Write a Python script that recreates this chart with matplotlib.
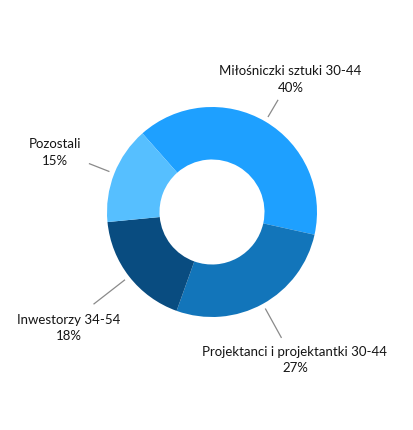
import numpy as np
import matplotlib
matplotlib.use("Agg")
import matplotlib.pyplot as plt

categories = ["Miłośniczki sztuki 30-44", "Projektanci i projektantki 30-44",
              "Inwestorzy 34-54", "Pozostali"]
values = [40, 27, 18, 15]
colors = ["#1ea0ff", "#1275ba", "#094c80", "#56bfff"]

# label layout (data units, radius 1 = outer ring)
label_pos = [(0.748, 1.262), (0.79, -1.41), (-1.367, -1.105), (-1.50, 0.565)]
line_end_r = [1.24, 1.37, 1.43, 1.26]

plt.rcParams['font.family'] = ['Lato', 'DejaVu Sans']

W, H = 414, 430
fig = plt.figure(figsize=(W / 100, H / 100), dpi=100)
ax = fig.add_axes([0, 0, 1, 1])
cx, cy, R = 212, 212, 105

wedges, _ = ax.pie(values, colors=colors, startangle=131.5, counterclock=False,
                   radius=1.0, wedgeprops=dict(width=0.5, edgecolor='none'))

for w, cat, v, (tx, ty), r_end in zip(wedges, categories, values, label_pos, line_end_r):
    mid = np.deg2rad((w.theta1 + w.theta2) / 2)
    x0, y0 = 1.05 * np.cos(mid), 1.05 * np.sin(mid)
    x1, y1 = r_end * np.cos(mid), r_end * np.sin(mid)
    ax.plot([x0, x1], [y0, y1], color="#8a8a8a", lw=0.9, solid_capstyle='butt')
    ax.text(tx, ty, f"{cat}\n{v}%", ha='center', va='center', multialignment='center',
            fontsize=9.5, color="#151515", linespacing=1.45)

ax.set_xlim(-cx / R, (W - cx) / R)
ax.set_ylim(-(H - cy) / R, cy / R)
ax.set_aspect('auto')
ax.axis('off')
fig.savefig("out.png", dpi=100)
